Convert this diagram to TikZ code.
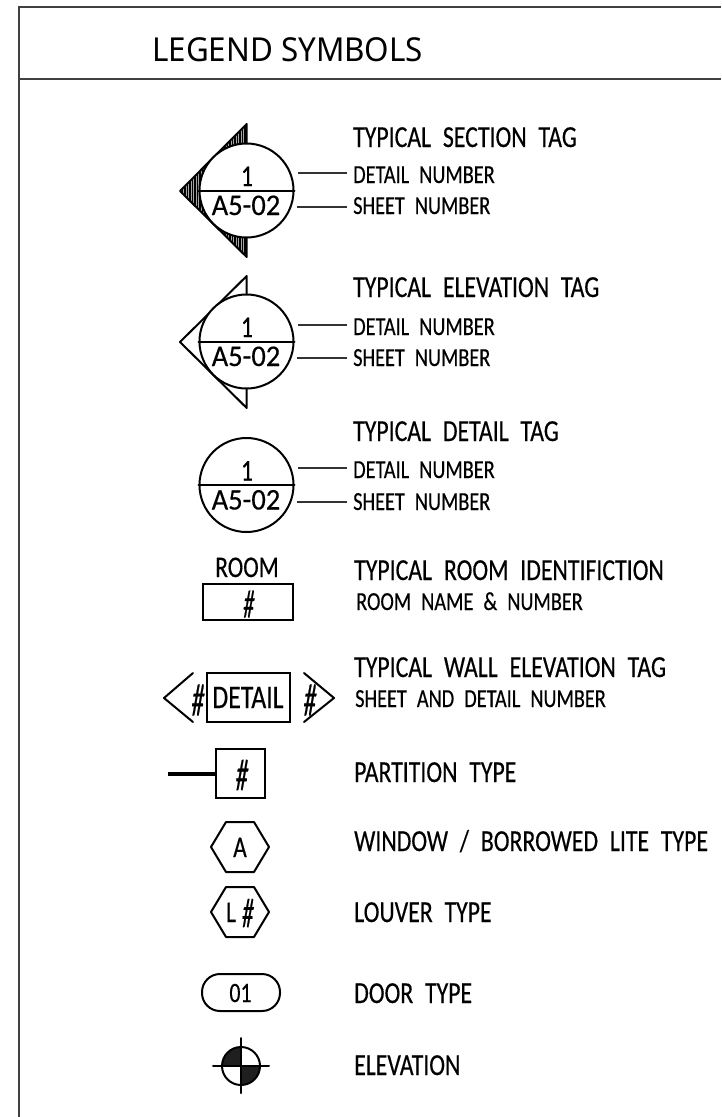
\documentclass[tikz,border=0pt]{standalone}
\usepackage{fontspec}
\setmainfont{Liberation Sans}
\newfontfamily\cadfont[FakeStretch=0.78,WordSpace=2.2,FakeBold=0.4]{Carlito}
\newfontfamily\tagfont[FakeStretch=0.95,FakeBold=0.4]{Carlito}
\newfontfamily\hashfont[FakeStretch=0.55,FakeSlant=0.08,FakeBold=0.4]{Carlito}
\newfontfamily\headfont[FakeStretch=0.95]{Noto Sans}
\begin{document}
\begin{tikzpicture}[x=1pt,y=-1pt,
  frameline/.style={line width=1.5pt,black!75},
  ln/.style={line width=2pt,line cap=round,line join=round},
  leader/.style={line width=1.1pt,black!80,shorten >=6pt},
  title/.style={anchor=base west,inner sep=0pt,font=\cadfont\fontsize{30.5}{30.5}\selectfont},
  sub/.style={anchor=base west,inner sep=0pt,font=\cadfont\fontsize{26}{26}\selectfont},
  tagtext/.style={anchor=base,inner sep=0pt,font=\cadfont\fontsize{30}{30}\selectfont},
  tagnum/.style={anchor=base,inner sep=0pt,font=\tagfont\fontsize{30}{30}\selectfont},
  hashmark/.style={anchor=center,inner sep=0pt,font=\hashfont\fontsize{#1}{#1}\selectfont},
  tagcircle/.style={circle,draw,line width=2pt,inner sep=0pt,minimum size=94pt,fill=white},
  boxed/.style={rectangle,draw,line width=2pt,inner sep=0pt}]
\useasboundingbox (0,0) rectangle (721,1117);
% frame
\draw[frameline] (19,1117) -- (19,7) -- (721,7);
\draw[frameline] (19,79) -- (721,79);
\node[anchor=base west,inner sep=0pt,font=\headfont\fontsize{33}{33}\selectfont] (head) at (152,61) {LEGEND SYMBOLS};
% right-hand labels
\node[title] (t1) at (353,147) {TYPICAL SECTION TAG};
\node[sub] (d1) at (353,183) {DETAIL NUMBER};
\node[sub] (s1) at (353,214) {SHEET NUMBER};
\node[title] (t2) at (353,297) {TYPICAL ELEVATION TAG};
\node[sub] (d2) at (353,335) {DETAIL NUMBER};
\node[sub] (s2) at (353,366) {SHEET NUMBER};
\node[title] (t3) at (353,441) {TYPICAL DETAIL TAG};
\node[sub] (d3) at (353,478) {DETAIL NUMBER};
\node[sub] (s3) at (353,510) {SHEET NUMBER};
\node[title] (t4) at (354,580) {TYPICAL ROOM IDENTIFICTION};
\node[sub] (s4) at (356,610) {ROOM NAME \& NUMBER};
\node[title] (t5) at (354,677) {TYPICAL WALL ELEVATION TAG};
\node[sub] (s5) at (355,707) {SHEET AND DETAIL NUMBER};
\node[title] (t6) at (354,782) {PARTITION TYPE};
\node[title] (t7) at (354,851) {WINDOW / BORROWED LITE TYPE};
\node[title] (t8) at (354,922) {LOUVER TYPE};
\node[title] (t9) at (354,1003) {DOOR TYPE};
\node[title] (t10) at (354,1075) {ELEVATION};
% section tag: hatched triangle
\begin{scope}
  \clip (180,191) -- (246.7,124) -- (246.7,257) -- cycle;
  \fill[black!35] (178,120) rectangle (248,260);
  \foreach \hx in {180,182.5,...,247.5} \draw[line width=1.7pt] (\hx,120) -- (\hx,260);
\end{scope}
\draw[ln] (246.7,124) -- (180,191) -- (246.7,257) -- cycle;
\node[tagcircle] (c1) at (246.5,190.5) {};
\draw[ln] (c1.west) -- (c1.east);
\node[tagtext] (n1) at (247,186) {1};
\node[tagnum] (m1) at (246,215) {A5-02};
\coordinate (la1) at (298,173);
\coordinate (lb1) at (297,207);
\draw[leader] (la1) -- (d1.west |- la1);
\draw[leader] (lb1) -- (s1.west |- lb1);
% elevation tag
\draw[ln] (246.7,276) -- (180,342) -- (246.7,408) -- cycle;
\node[tagcircle] (c2) at (246.5,341.5) {};
\draw[ln] (c2.west) -- (c2.east);
\node[tagtext] (n2) at (247,337) {1};
\node[tagnum] (m2) at (246,366) {A5-02};
\coordinate (la2) at (298,325);
\coordinate (lb2) at (297,358);
\draw[leader] (la2) -- (d2.west |- la2);
\draw[leader] (lb2) -- (s2.west |- lb2);
% detail tag
\node[tagcircle] (c3) at (246.5,485) {};
\draw[ln] (c3.west) -- (c3.east);
\node[tagtext] (n3) at (247,480.5) {1};
\node[tagnum] (m3) at (246,509.5) {A5-02};
\coordinate (la3) at (298,468);
\coordinate (lb3) at (297,502);
\draw[leader] (la3) -- (d3.west |- la3);
\draw[leader] (lb3) -- (s3.west |- lb3);
% room
\node[tagtext] (room) at (247,577) {ROOM};
\node[boxed,minimum width=90pt,minimum height=36pt] (rbox) at (248,602) {};
\node[hashmark=40] (rh) at (248,604) {\#};
% wall elevation tag
\node[boxed,minimum width=83pt,minimum height=49pt] (wbox) at (248.5,697.5) {};
\node[tagtext,font=\cadfont\fontsize{33}{33}\selectfont] (wd) at (248,708) {DETAIL};
\draw[ln] (193,673) -- (164,698) -- (193,722);
\draw[ln] (304,673) -- (334,698) -- (304,722);
\node[hashmark=46] (wh1) at (197,700) {\#};
\node[hashmark=46] (wh2) at (309,700) {\#};
% partition
\node[boxed,minimum size=49pt] (pbox) at (240.5,773.5) {};
\coordinate (pend) at (168,773.5);
\draw[line width=4pt] (pend) -- (pbox.west);
\node[hashmark=45] (ph) at (241,775) {\#};
% window hexagon
\draw[ln] (211,847) -- (226,822) -- (254,822) -- (269,847) -- (254,872) -- (226,872) -- cycle;
\node[tagtext] (wa) at (240,857) {A};
% louver hexagon
\draw[ln] (211,912) -- (226,887) -- (254,887) -- (269,912) -- (254,937) -- (226,937) -- cycle;
\node[tagtext] (ll) at (231,922) {L};
\node[hashmark=42] (lh) at (247,913) {\#};
% door
\node[boxed,rounded corners=18pt,minimum width=78pt,minimum height=37pt] (door) at (241,992.5) {};
\node[tagtext,font=\cadfont\fontsize{28}{28}\selectfont] (d01) at (240.5,1002) {01};
% elevation mark
\begin{scope}
  \clip (241,1066) circle (19);
  \fill[black!88] (222,1047) rectangle (241,1066);
  \fill[black!88] (241,1066) rectangle (260,1085);
\end{scope}
\node[circle,draw,line width=2pt,inner sep=0pt,minimum size=38pt] (em) at (241,1066) {};
\coordinate (eL) at (213,1066);
\coordinate (eR) at (269,1066);
\coordinate (eT) at (241,1038);
\coordinate (eB) at (241,1093);
\draw[ln] (eL) -- (eR);
\draw[ln] (eT) -- (eB);
\end{tikzpicture}
\end{document}
